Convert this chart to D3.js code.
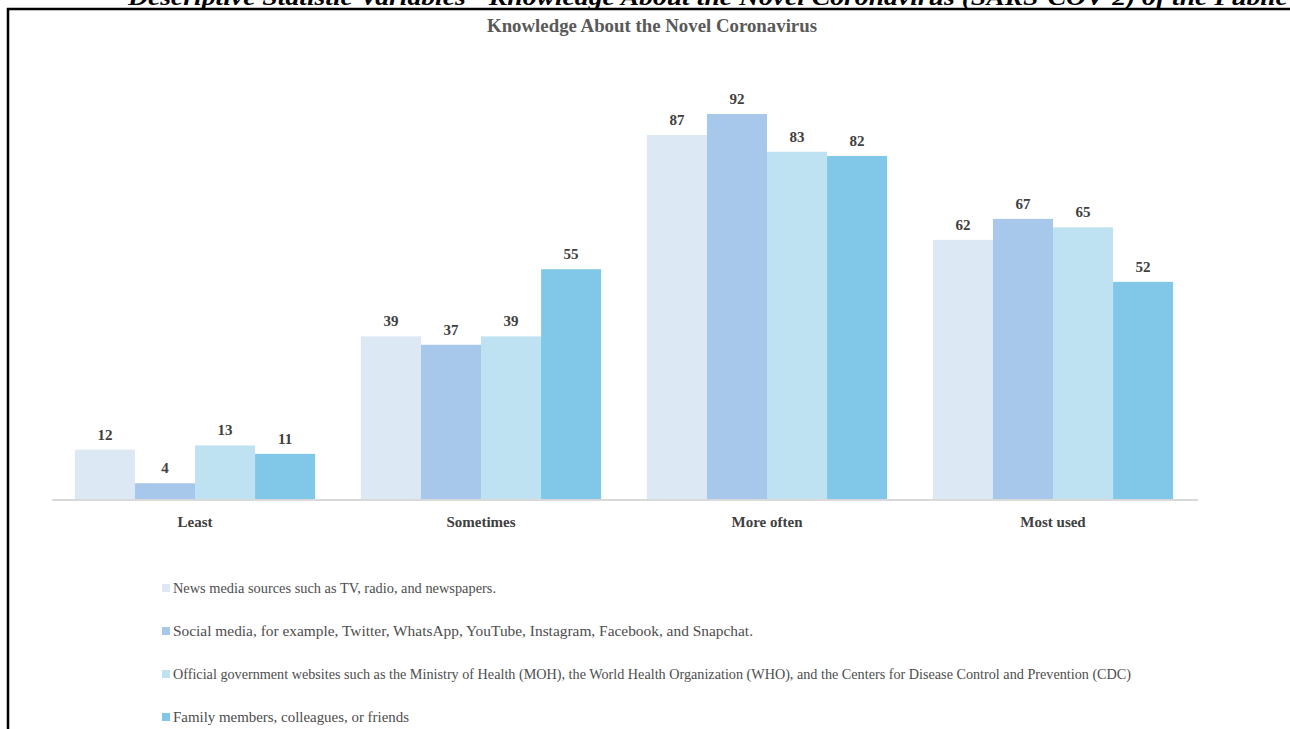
<!DOCTYPE html>
<html>
<head>
<meta charset="utf-8">
<script src="https://cdn.jsdelivr.net/npm/d3@7"></script>
<style>
  html, body { margin: 0; padding: 0; background: #fff; }
  svg { display: block; }
  .serif { font-family: "Liberation Serif", "DejaVu Serif", serif; }
</style>
</head>
<body>
<svg id="chart" width="1290" height="729"></svg>
<script>
// categories on the x axis
const categories = ["Least", "Sometimes", "More often", "Most used"];

// one array per information source, in category order
const newsMedia = [12, 39, 87, 62];
const socialMedia = [4, 37, 92, 67];
const officialSites = [13, 39, 83, 65];
const familyFriends = [11, 55, 82, 52];

const seriesNames = [
  "News media sources such as TV, radio, and newspapers.",
  "Social media, for example, Twitter, WhatsApp, YouTube, Instagram, Facebook, and  Snapchat.",
  "Official government websites such as the Ministry of Health (MOH), the World Health Organization (WHO), and the Centers for Disease Control and Prevention (CDC)",
  "Family members, colleagues, or friends"
];
const seriesValues = [newsMedia, socialMedia, officialSites, familyFriends];

const colors = ["#dde8f5", "#a7c8ea", "#bfe2f3", "#81c8e8"];

const svg = d3.select("#chart");

// cropped caption above the frame: only its lower part shows
svg.append("clipPath").attr("id", "capClip")
  .append("rect").attr("x", 0).attr("y", 0).attr("width", 1290).attr("height", 8);
svg.append("text")
  .attr("class", "serif")
  .attr("clip-path", "url(#capClip)")
  .attr("x", 128).attr("y", 5)
  .attr("font-size", 23).attr("font-weight", "bold").attr("font-style", "italic")
  .attr("fill", "#000")
  .attr("textLength", 1160).attr("lengthAdjust", "spacingAndGlyphs")
  .text("Descriptive Statistic Variables - Knowledge About the Novel Coronavirus (SARS-COV-2) of the Public");

// page frame (cropped table border)
svg.append("line")
  .attr("x1", 7).attr("x2", 1290).attr("y1", 9).attr("y2", 9)
  .attr("stroke", "#000").attr("stroke-width", 2.5);
svg.append("line")
  .attr("x1", 8).attr("x2", 8).attr("y1", 8).attr("y2", 729)
  .attr("stroke", "#000").attr("stroke-width", 2.5);

// chart title
svg.append("text")
  .attr("class", "serif")
  .attr("x", 652).attr("y", 32)
  .attr("text-anchor", "middle")
  .attr("font-size", 18).attr("font-weight", "bold")
  .attr("fill", "#595959")
  .attr("textLength", 330).attr("lengthAdjust", "spacingAndGlyphs")
  .text("Knowledge About the Novel Coronavirus");

const x0 = d3.scaleBand()
  .domain(categories)
  .range([52, 1196])
  .paddingInner(0.16)
  .paddingOuter(0.08);

const x1 = d3.scaleBand()
  .domain(d3.range(seriesValues.length))
  .range([0, x0.bandwidth()]);

const y = d3.scaleLinear()
  .domain([0, 92])
  .range([500, 114]);

const rows = [];
categories.forEach((c, ci) => {
  seriesValues.forEach((vals, si) => {
    rows.push({ cat: c, s: si, v: vals[ci] });
  });
});

const g = svg.append("g");

g.selectAll("rect.bar")
  .data(rows)
  .join("rect")
  .attr("class", "bar")
  .attr("x", d => x0(d.cat) + x1(d.s))
  .attr("width", x1.bandwidth())
  .attr("y", d => y(d.v))
  .attr("height", d => y(0) - y(d.v))
  .attr("fill", d => colors[d.s]);

g.selectAll("text.val")
  .data(rows)
  .join("text")
  .attr("class", "val serif")
  .attr("x", d => x0(d.cat) + x1(d.s) + x1.bandwidth() / 2)
  .attr("y", d => y(d.v) - 10)
  .attr("text-anchor", "middle")
  .attr("font-size", 15).attr("font-weight", "bold")
  .attr("fill", "#404040")
  .text(d => d.v);

// x axis
const xAxis = svg.append("g")
  .attr("transform", "translate(0," + y(0) + ")")
  .call(d3.axisBottom(x0).tickSize(0).tickPadding(16));
xAxis.select(".domain").attr("stroke", "#d9d9d9").attr("stroke-width", 2)
  .attr("d", "M52,0H1198");
xAxis.selectAll("text")
  .attr("class", "serif")
  .attr("font-size", 15).attr("font-weight", "bold")
  .attr("fill", "#404040");

// legend
const legendWidths = [323, 580, 958, 236];
const legend = svg.append("g");
const items = legend.selectAll("g")
  .data(seriesNames)
  .join("g")
  .attr("transform", (d, i) => "translate(162," + (588 + i * 43) + ")");
items.append("rect")
  .attr("x", 0).attr("y", -4).attr("width", 8).attr("height", 8)
  .attr("fill", (d, i) => colors[i]);
items.append("text")
  .attr("class", "serif")
  .attr("x", 11).attr("y", 5)
  .attr("font-size", 14.5)
  .attr("fill", "#4d4d4d")
  .attr("textLength", (d, i) => legendWidths[i])
  .attr("lengthAdjust", "spacingAndGlyphs")
  .text(d => d);
</script>
</body>
</html>
